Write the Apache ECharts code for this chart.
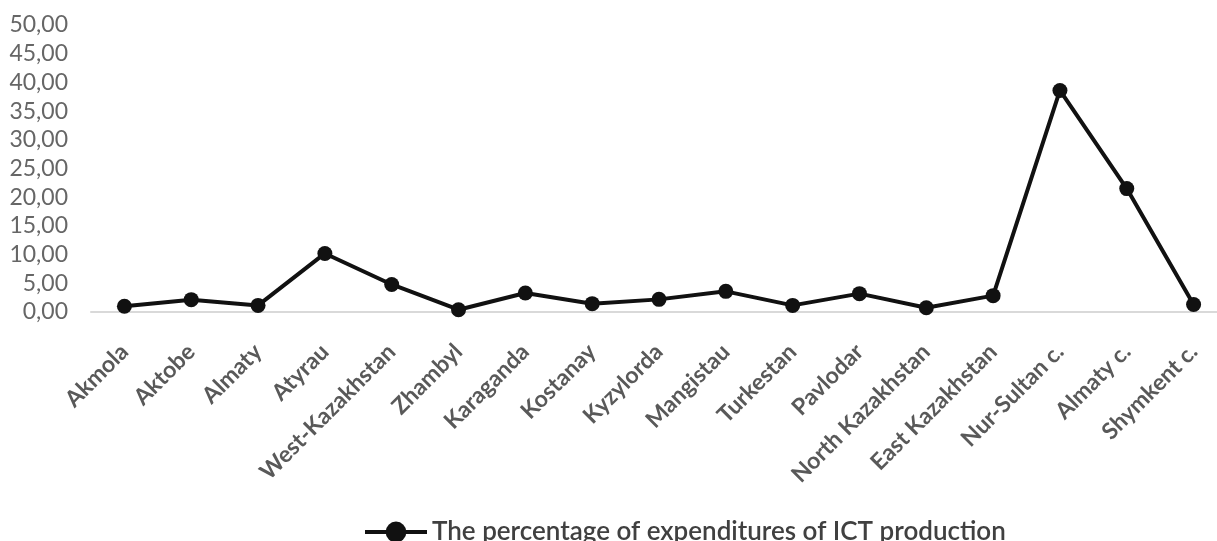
<!DOCTYPE html>
<html>
<head>
<meta charset="utf-8">
<script src="https://cdn.jsdelivr.net/npm/echarts@6/dist/echarts.min.js"></script>
<style>
  html, body { margin: 0; padding: 0; background: #fff; }
  #chart { width: 1217px; height: 541px; }
</style>
</head>
<body>
<div id="chart"></div>
<script>
// regions on the x axis
var regions = ["Akmola", "Aktobe", "Almaty", "Atyrau", "West-Kazakhstan", "Zhambyl",
    "Karaganda", "Kostanay", "Kyzylorda", "Mangistau", "Turkestan", "Pavlodar",
    "North Kazakhstan", "East Kazakhstan", "Nur-Sultan c.", "Almaty c.", "Shymkent c."];

// percentage of expenditures of ICT production
var ictShare = [1.0, 2.15, 1.15, 10.2, 4.8, 0.4, 3.3, 1.45, 2.2, 3.6, 1.15, 3.2,
    0.75, 2.85, 38.6, 21.5, 1.3];

var seriesName = "The percentage of expenditures of ICT production";

var chart = echarts.init(document.getElementById("chart"));

var option = {
    animation: false,
    textStyle: { fontFamily: "Lato" },
    grid: {
        left: 91,
        width: 1136,
        top: 25,
        bottom: 229,
        containLabel: false,
        outerBoundsMode: "none"
    },
    legend: {
        top: 514,
        left: 358,
        itemWidth: 62,
        itemHeight: 26,
        itemGap: 4,
        lineStyle: { width: 4, color: "#111" },
        textStyle: { fontSize: 26, color: "#404040", fontFamily: "Lato", fontWeight: 600 },
        data: [seriesName]
    },
    xAxis: {
        type: "category",
        data: regions,
        axisLine: { lineStyle: { color: "#d9d9d9", width: 2 } },
        axisTick: { show: false },
        axisLabel: {
            rotate: 45,
            margin: 36,
            interval: 0,
            color: "#595959",
            fontSize: 23,
            fontWeight: "bold"
        }
    },
    yAxis: {
        type: "value",
        min: 0,
        max: 50,
        interval: 5,
        splitLine: { show: false },
        axisLine: { show: false },
        axisTick: { show: false },
        axisLabel: {
            margin: 23,
            color: "#666",
            fontSize: 23,
            formatter: function (v) { return v.toFixed(2).replace(".", ","); }
        }
    },
    series: [
        {
            name: seriesName,
            type: "line",
            data: ictShare,
            symbol: "circle",
            symbolSize: 15,
            lineStyle: { color: "#111", width: 4 },
            itemStyle: { color: "#111" }
        }
    ]
};

chart.setOption(option);
</script>
</body>
</html>
